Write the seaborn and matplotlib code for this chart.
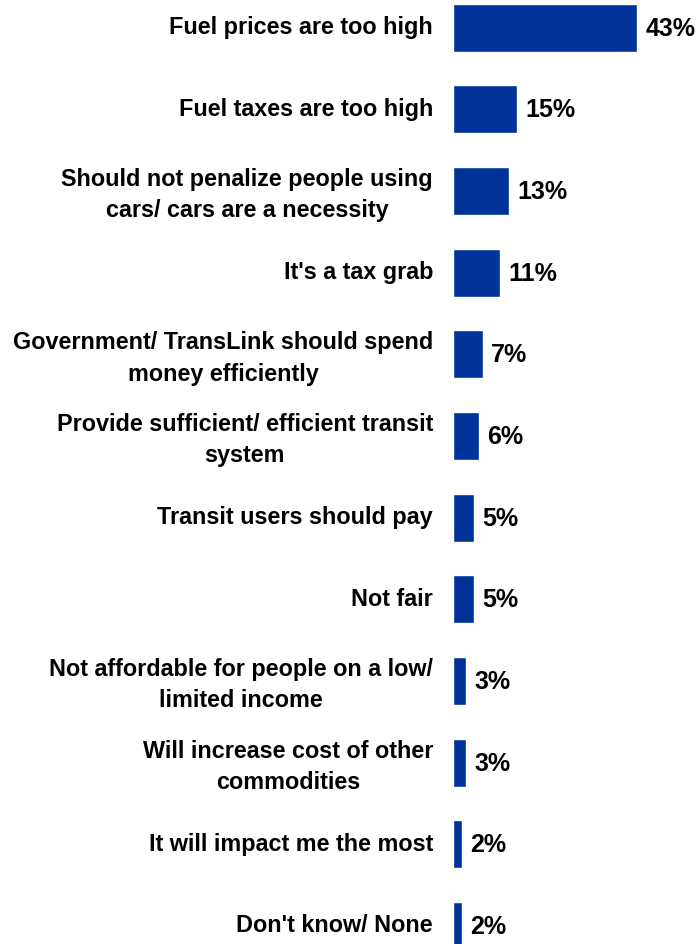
import matplotlib
matplotlib.use("Agg")
import matplotlib.pyplot as plt
import matplotlib.transforms as mtransforms
import seaborn as sns
import pandas as pd

categories = [
    "Fuel prices are too high",
    "Fuel taxes are too high",
    "Should not penalize people using\ncars/ cars are a necessity",
    "It's a tax grab",
    "Government/ TransLink should spend\nmoney efficiently",
    "Provide sufficient/ efficient transit\nsystem",
    "Transit users should pay",
    "Not fair",
    "Not affordable for people on a low/\nlimited income",
    "Will increase cost of other\ncommodities",
    "It will impact me the most",
    "Don't know/ None",
]
values = [43, 15, 13, 11, 7, 6, 5, 5, 3, 3, 2, 2]

df = pd.DataFrame({"reason": categories, "pct": values})

sns.set_theme(style="white")
plt.rcParams["font.family"] = ["Liberation Sans", "DejaVu Sans"]

fig = plt.figure(figsize=(7, 9.45), dpi=100)
ax = fig.add_axes([453 / 700, 0, 247 / 700, 1])

sns.barplot(data=df, y="reason", x="pct", orient="h", color="#003399",
            width=0.588, saturation=1, ax=ax)

ax.set_xlim(0, 57.7)
ax.set_ylim(11.221, -0.3527)

for c in ax.containers:
    ax.bar_label(c, labels=[f"{v}%" for v in values], padding=6,
                 fontsize=18, fontweight="bold", color="black")

ax.set_xlabel("")
ax.set_ylabel("")
ax.set_xticks([])
ax.tick_params(axis="y", length=0, pad=14.4)
lift = mtransforms.ScaledTranslation(0, 2.5 / 72, fig.dpi_scale_trans)
for lbl in ax.get_yticklabels():
    lbl.set_fontweight("bold")
    lbl.set_fontsize(16.8)
    lbl.set_multialignment("center")
    lbl.set_linespacing(1.45)
    lbl.set_color("black")
    lbl.set_transform(lbl.get_transform() + lift)
for s in ax.spines.values():
    s.set_visible(False)

fig.savefig("out.png", dpi=100)
